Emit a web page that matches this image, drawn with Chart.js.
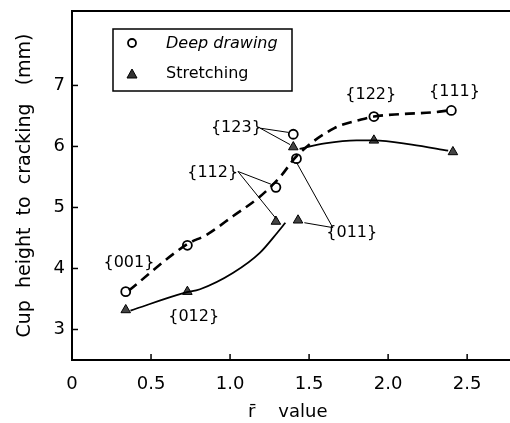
<!DOCTYPE html>
<html>
<head>
<meta charset="utf-8">
<script src="https://cdn.jsdelivr.net/npm/chart.js@4.4.1/dist/chart.umd.min.js"></script>
<style>
html,body{margin:0;padding:0;background:#fff;}
#wrap{width:510px;height:423px;position:relative;}
</style>
</head>
<body>
<div id="wrap"><canvas id="c" width="510" height="423"></canvas></div>
<script>
// ---- data ----
const seriesNames = ['Deep drawing', 'Stretching'];
const deepX = [0.34, 0.73, 1.29, 1.40, 1.42, 1.91, 2.40];
const deepY = [3.62, 4.38, 5.33, 6.20, 5.80, 6.49, 6.59];
const stretchX = [0.34, 0.73, 1.29, 1.43, 1.40, 1.91, 2.41];
const stretchY = [3.32, 3.62, 4.77, 4.79, 5.99, 6.10, 5.91];
// fitted curves as drawn in the figure
const deepCurveX = [0.36, 0.73, 0.85, 1.02, 1.19, 1.32, 1.42, 1.66, 1.83, 1.91, 2.08, 2.29, 2.38];
const deepCurveY = [3.64, 4.40, 4.55, 4.86, 5.18, 5.51, 5.84, 6.30, 6.44, 6.49, 6.53, 6.56, 6.59];
const stretchCurveX = [0.37, 0.71, 0.81, 1.02, 1.19, 1.30, 1.35, null, 1.44, 1.60, 1.80, 1.91, 2.15, 2.38];
const stretchCurveY = [3.31, 3.60, 3.66, 3.93, 4.26, 4.59, 4.75, null, 5.96, 6.05, 6.10, 6.10, 6.03, 5.93];
const xTicks = [0, 0.5, 1.0, 1.5, 2.0, 2.5];
const xTickLabels = ['0', '0.5', '1.0', '1.5', '2.0', '2.5'];
const yTicks = [3, 4, 5, 6, 7];
const planeLabels = ['{001}', '{012}', '{112}', '{123}', '{122}', '{111}', '{011}'];
const planeLabelX = [0.36, 0.77, 0.89, 1.04, 1.89, 2.42, 1.77];
const planeLabelY = [4.10, 3.21, 5.57, 6.31, 6.85, 6.89, 4.59];
// leader lines: [fromX, fromY, toX, toY]
const leaders = [
  [1.05, 5.59, 1.26, 5.38], [1.05, 5.59, 1.29, 4.82],
  [1.19, 6.30, 1.37, 6.23], [1.19, 6.30, 1.38, 6.03],
  [1.65, 4.67, 1.42, 5.74], [1.65, 4.67, 1.47, 4.75]
];

const pts = (xs, ys) => xs.map((x, i) => (x === null ? {x: null, y: null} : {x: x, y: ys[i]}));
const FONT = "'DejaVu Sans', sans-serif";

const deco = {
  id: 'deco',
  afterDraw(chart) {
    const ctx = chart.ctx, xs = chart.scales.x, ys = chart.scales.y, a = chart.chartArea;
    ctx.save();
    ctx.strokeStyle = '#000'; ctx.lineWidth = 2;
    ctx.beginPath(); ctx.moveTo(a.left, a.top); ctx.lineTo(chart.width, a.top); ctx.stroke();
    ctx.beginPath(); ctx.moveTo(a.left, a.bottom); ctx.lineTo(chart.width, a.bottom); ctx.stroke();
    ctx.lineWidth = 1.5;
    yTicks.forEach(v => { const p = ys.getPixelForValue(v); ctx.beginPath(); ctx.moveTo(a.left, p); ctx.lineTo(a.left + 6, p); ctx.stroke(); });
    xTicks.forEach(v => { if (v === 0) return; const p = xs.getPixelForValue(v); ctx.beginPath(); ctx.moveTo(p, a.bottom); ctx.lineTo(p, a.bottom - 6); ctx.stroke(); });
    ctx.lineWidth = 1;
    leaders.forEach(l => {
      ctx.beginPath();
      ctx.moveTo(xs.getPixelForValue(l[0]), ys.getPixelForValue(l[1]));
      ctx.lineTo(xs.getPixelForValue(l[2]), ys.getPixelForValue(l[3]));
      ctx.stroke();
    });
    ctx.fillStyle = '#000';
    ctx.font = '16px ' + FONT;
    ctx.textAlign = 'center'; ctx.textBaseline = 'middle';
    planeLabels.forEach((t, i) => ctx.fillText(t, xs.getPixelForValue(planeLabelX[i]), ys.getPixelForValue(planeLabelY[i])));
    const lx = 113, ly = 29, lw = 179, lh = 62;
    ctx.lineWidth = 1.5;
    ctx.strokeRect(lx, ly, lw, lh);
    ctx.beginPath(); ctx.arc(132, 43, 4, 0, Math.PI * 2); ctx.lineWidth = 1.8; ctx.stroke();
    ctx.beginPath(); ctx.moveTo(132, 69); ctx.lineTo(137, 78); ctx.lineTo(127, 78); ctx.closePath();
    ctx.fillStyle = '#333'; ctx.fill(); ctx.lineWidth = 1; ctx.stroke();
    ctx.fillStyle = '#000';
    ctx.textAlign = 'left';
    ctx.font = 'italic 16px ' + FONT;
    ctx.fillText(seriesNames[0], 166, 44);
    ctx.font = '16px ' + FONT;
    ctx.fillText(seriesNames[1], 166, 74);
    ctx.restore();
  }
};

new Chart(document.getElementById('c'), {
  type: 'scatter',
  data: {
    datasets: [
      { label: 'deepCurve', data: pts(deepCurveX, deepCurveY), showLine: true, pointRadius: 0, borderColor: '#000', borderWidth: 2.6, borderDash: [10, 6], cubicInterpolationMode: 'monotone', spanGaps: false },
      { label: 'stretchCurve', data: pts(stretchCurveX, stretchCurveY), showLine: true, pointRadius: 0, borderColor: '#000', borderWidth: 1.8, cubicInterpolationMode: 'monotone', spanGaps: false },
      { label: seriesNames[0], data: pts(deepX, deepY), pointStyle: 'circle', pointRadius: 4.5, pointBorderWidth: 1.8, pointBackgroundColor: '#fff', borderColor: '#000' },
      { label: seriesNames[1], data: pts(stretchX, stretchY), pointStyle: 'triangle', pointRadius: 5.5, pointBorderWidth: 1, pointBackgroundColor: '#444', borderColor: '#000' }
    ]
  },
  options: {
    responsive: false,
    animation: false,
    layout: { padding: { top: 11, right: 0, left: 0, bottom: 0 } },
    plugins: { legend: { display: false }, tooltip: { enabled: false } },
    scales: {
      x: {
        type: 'linear', min: 0, max: 2.73,
        afterBuildTicks: s => { s.ticks = xTicks.map(v => ({ value: v })); },
        afterFit: s => { s.height = 63; s.paddingRight = 0; s.paddingLeft = 0; },
        ticks: { color: '#000', font: { size: 18, family: FONT }, padding: 14, maxRotation: 0,
          callback: (v) => { const i = xTicks.indexOf(v); return i >= 0 ? xTickLabels[i] : ''; } },
        grid: { display: false, drawTicks: false },
        border: { display: true, color: '#000', width: 2 },
        title: { display: true, text: 'r\u0304    value', color: '#000', font: { size: 18, family: FONT }, padding: { top: 2, bottom: 0 } }
      },
      y: {
        type: 'linear', min: 2.5, max: 8.22,
        afterBuildTicks: s => { s.ticks = yTicks.map(v => ({ value: v })); },
        afterFit: s => { s.width = 72; s.paddingTop = 0; s.paddingBottom = 0; },
        ticks: { color: '#000', font: { size: 18, family: FONT }, padding: 7 },
        grid: { display: false, drawTicks: false },
        border: { display: true, color: '#000', width: 2 },
        title: { display: true, text: 'Cup  height  to  cracking   (mm)', color: '#000', font: { size: 19, family: FONT }, padding: { top: 14, bottom: 0 } }
      }
    }
  },
  plugins: [deco]
});
</script>
</body>
</html>
